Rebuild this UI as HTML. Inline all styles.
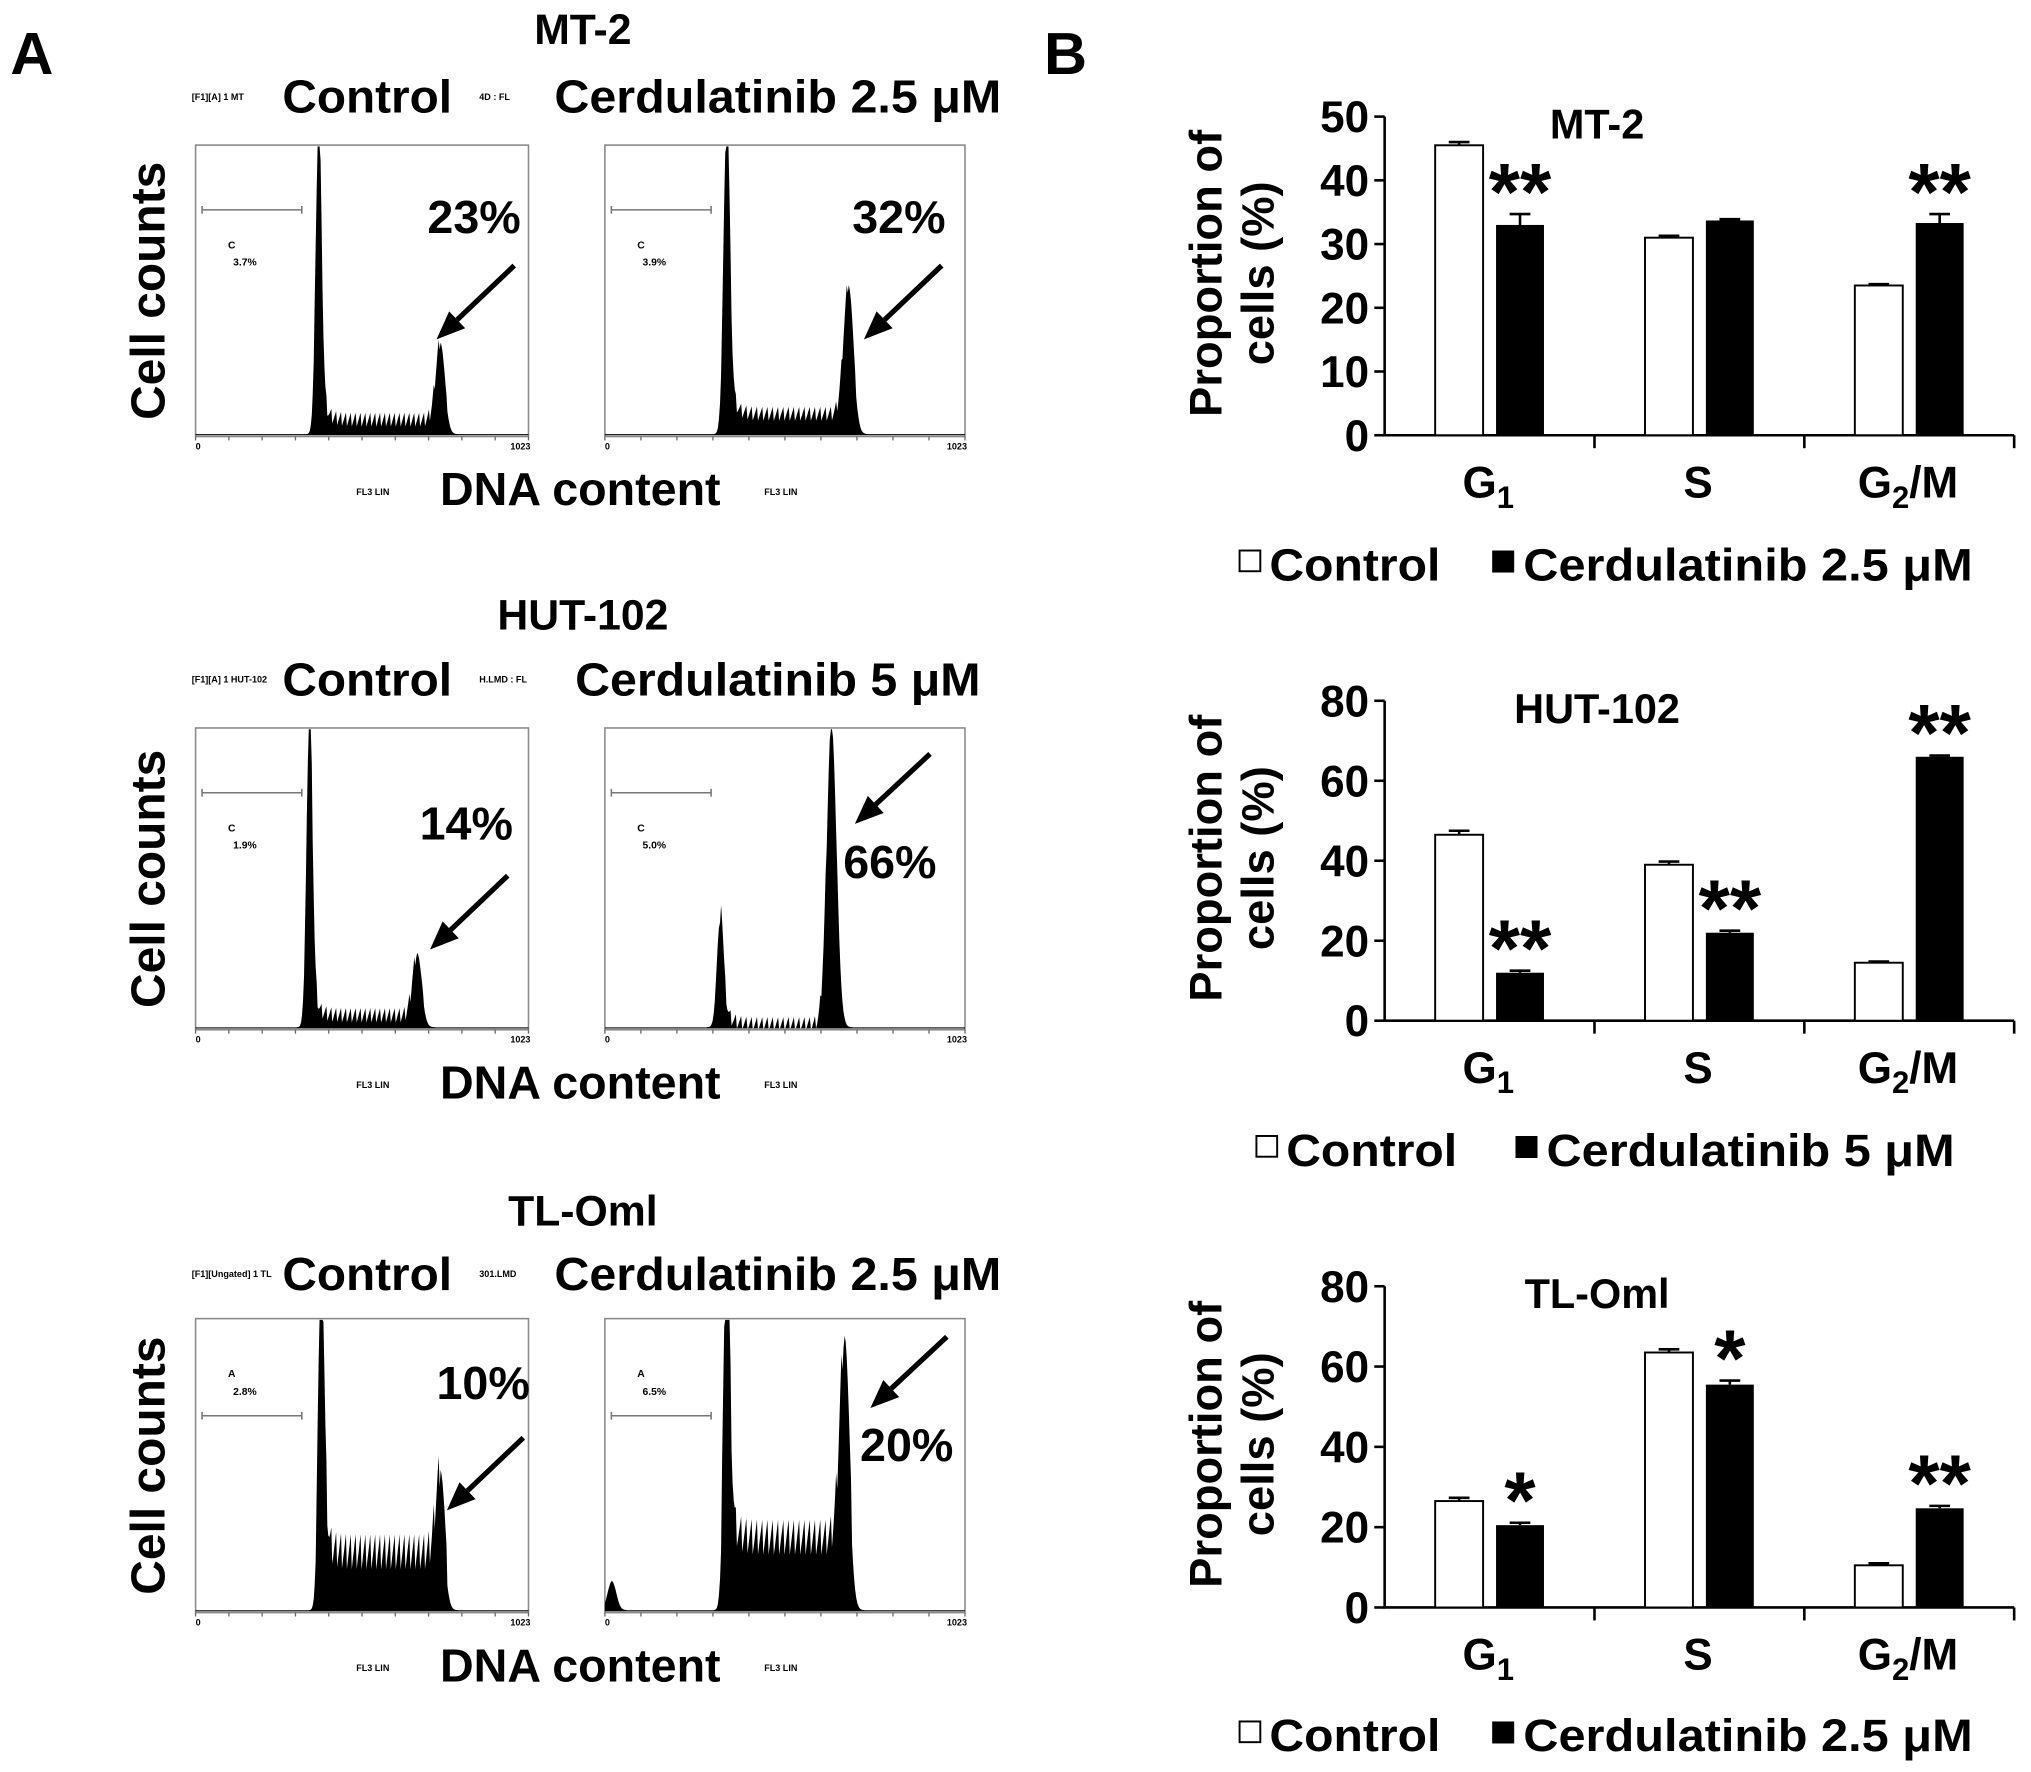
<!DOCTYPE html>
<html><head><meta charset="utf-8"><style>
html,body{margin:0;padding:0;background:#fff}
svg{display:block}
text{font-family:"Liberation Sans",Arial,sans-serif;font-weight:bold;fill:#000}
</style></head><body>
<svg id="fig" width="2031" height="1772" viewBox="0 0 1568 1368" xmlns="http://www.w3.org/2000/svg">
<rect width="1568" height="1368" fill="#fff"/>
<text x="8" y="57" font-size="46">A</text>
<text x="806" y="57" font-size="46">B</text>
<g id="panelA"></g>
<g id="panelB"></g>
</svg>
<script>
// ---------- Panel B data ----------
var categories = ["G1", "S", "G2/M"];
var mt2Control = [45.5, 31.0, 23.5];
var mt2Treated = [33.0, 33.7, 33.3];
var mt2CtrlErr = [0.5, 0.3, 0.2];
var mt2TrtErr = [1.7, 0.2, 1.4];
var mt2Stars = ["**", "", "**"];
var mt2Ticks = [0, 10, 20, 30, 40, 50];
var hutControl = [46.5, 39.0, 14.5];
var hutTreated = [12.0, 22.0, 66.0];
var hutCtrlErr = [1.0, 0.8, 0.3];
var hutTrtErr = [0.5, 0.5, 0.3];
var hutStars = ["**", "**", "**"];
var hutTicks = [0, 20, 40, 60, 80];
var tlControl = [26.5, 63.5, 10.5];
var tlTreated = [20.5, 55.5, 24.7];
var tlCtrlErr = [0.8, 0.8, 0.5];
var tlTrtErr = [0.6, 1.0, 0.6];
var tlStars = ["*", "*", "**"];
var tlTicks = [0, 20, 40, 60, 80];
// ---------- Panel A histogram peak data (channel, relative height) ----------
var histG1Channel = [378, 346, 350, 327, 386, 346];
var histG1Height = [1.0, 1.0, 1.0, 0.34, 1.0, 1.0];
var histG2Channel = [752, 692, 681, 644, 752, 681];
var histG2Height = [0.27, 0.45, 0.21, 1.0, 0.29, 0.70];
var histPlateau = [0.05, 0.07, 0.04, 0.01, 0.20, 0.25];
var histSubG1 = [0.0, 0.0, 0.0, 0.0, 0.0, 0.10];
var g2Percent = ["23%", "32%", "14%", "66%", "10%", "20%"];

var NS = "http://www.w3.org/2000/svg";
function mk(tag, attrs, parent, txt) {
  var e = document.createElementNS(NS, tag);
  for (var k in attrs) e.setAttribute(k, attrs[k]);
  if (txt !== undefined) e.textContent = txt;
  parent.appendChild(e);
  return e;
}
var A = document.getElementById('panelA');
var B = document.getElementById('panelB');

// ---------- Panel B ----------
function barChart(cfg) {
  var g = mk('g', {}, B);
  
  
  var x0 = 1069, x1 = 1555, yTop = cfg.yTop, yBot = cfg.yBot, vmax = cfg.ticks[cfg.ticks.length - 1];
  function ys(v) { return yBot - (v / vmax) * (yBot - yTop); }
  var axis = mk('path', {d: 'M' + x0 + ',' + yTop + 'V' + yBot + 'H' + x1, stroke: '#000', 'stroke-width': 2, fill: 'none'}, g);
  
  
  cfg.ticks.forEach(function (t) {
    var y = ys(t);
    mk('line', {x1: x0 - 8, x2: x0, y1: y, y2: y, stroke: '#000', 'stroke-width': 2}, g);
    var tl = mk('text', {x: x0 - 12, y: y + 12, 'font-size': 34, 'text-anchor': 'end'}, g, String(t));
    
    
  });
  var groupW = (x1 - x0) / categories.length;
  for (var i = 1; i <= categories.length; i++) {
    var xt = x0 + groupW * i;
    mk('line', {x1: xt, x2: xt, y1: yBot, y2: yBot + 10, stroke: '#000', 'stroke-width': 2}, g);
  }
  categories.forEach(function (c, i) {
    var gx = x0 + groupW * i;
    var bw = 37;
    var cx = gx + 39, tx = gx + 86;
    var b1 = mk('rect', {x: cx, y: ys(cfg.ctrl[i]), width: bw, height: yBot - ys(cfg.ctrl[i]), fill: '#fff', stroke: '#000', 'stroke-width': 1.5}, g);
    
    
    var b2 = mk('rect', {x: tx, y: ys(cfg.trt[i]), width: bw, height: yBot - ys(cfg.trt[i]), fill: '#000'}, g);
    
    
    [[cx, cfg.ctrl[i], cfg.ce[i]], [tx, cfg.trt[i], cfg.te[i]]].forEach(function (p) {
      var ex = p[0] + bw / 2, yv = ys(p[1]), ye = ys(p[1] + p[2]);
      mk('path', {d: 'M' + ex + ',' + yv + 'V' + ye + 'M' + (ex - 8) + ',' + ye + 'H' + (ex + 8), stroke: '#000', 'stroke-width': 2, fill: 'none'}, g);
    });
    if (cfg.stars[i]) {
      var st = mk('text', {x: tx + bw / 2, y: ys(cfg.trt[i] + cfg.te[i]) + 4, 'font-size': 62, 'text-anchor': 'middle'}, g, cfg.stars[i]);
      
      
    }
    var lab = mk('text', {x: gx + 80, y: yBot + 48, 'font-size': 34, 'text-anchor': 'middle'}, g);
    
    
    if (c === 'G1') { lab.innerHTML = 'G<tspan font-size="24" dy="8">1</tspan>'; }
    else if (c === 'G2/M') { lab.innerHTML = 'G<tspan font-size="24" dy="8">2</tspan><tspan dy="-8">/M</tspan>'; }
    else lab.textContent = c;
  });
  var t = mk('text', {x: 1233, y: yTop + 17, 'font-size': 32, 'text-anchor': 'middle'}, g, cfg.title);
  
  
  var yl = mk('text', {transform: 'translate(943,' + ((yTop + yBot) / 2 - 2) + ') rotate(-90)', 'font-size': 35, 'text-anchor': 'middle'}, g, 'Proportion of');
  
  
  var yl2 = mk('text', {transform: 'translate(983,' + ((yTop + yBot) / 2 - 2) + ') rotate(-90)', 'font-size': 35, 'text-anchor': 'middle'}, g, 'cells (%)');
  
  
  var L = cfg.legend;
  var lg = mk('g', {}, g);
  
  
  mk('rect', {x: L.x1, y: L.y - 23, width: 16, height: 16, fill: '#fff', stroke: '#000', 'stroke-width': 1.5}, lg);
  mk('text', {x: L.x1 + 23, y: L.y, 'font-size': 35, textLength: L.w1, lengthAdjust: 'spacingAndGlyphs'}, lg, 'Control');
  mk('rect', {x: L.x2, y: L.y - 23, width: 17, height: 17, fill: '#000'}, lg);
  mk('text', {x: L.x2 + 24, y: L.y, 'font-size': 35, textLength: L.w2, lengthAdjust: 'spacingAndGlyphs'}, lg, L.label);
}
barChart({name: 'chart-mt2', title: 'MT-2', yTop: 90, yBot: 336, ticks: mt2Ticks, ctrl: mt2Control, trt: mt2Treated, ce: mt2CtrlErr, te: mt2TrtErr, stars: mt2Stars,
  legend: {x1: 957, x2: 1152, y: 448, w1: 132, w2: 347, label: 'Cerdulatinib 2.5 μM'}});
barChart({name: 'chart-hut102', title: 'HUT-102', yTop: 541, yBot: 788, ticks: hutTicks, ctrl: hutControl, trt: hutTreated, ce: hutCtrlErr, te: hutTrtErr, stars: hutStars,
  legend: {x1: 970, x2: 1170, y: 900, w1: 132, w2: 315, label: 'Cerdulatinib 5 μM'}});
barChart({name: 'chart-tloml', title: 'TL-Oml', yTop: 993, yBot: 1241, ticks: tlTicks, ctrl: tlControl, trt: tlTreated, ce: tlCtrlErr, te: tlTrtErr, stars: tlStars,
  legend: {x1: 957, x2: 1152, y: 1352, w1: 132, w2: 347, label: 'Cerdulatinib 2.5 μM'}});

// ---------- Panel A ----------
var rows = [
  {title: 'MT-2', y: 112, h: 225, treat: 'Cerdulatinib 2.5 μM', tw: 345, tx: 428, tag1: '[F1][A] 1 MT', tag2: '4D : FL', c1: 'C', c2: '3.7%', c3: '3.9%'},
  {title: 'HUT-102', y: 562, h: 233, treat: 'Cerdulatinib 5 μM', tw: 313, tx: 444, tag1: '[F1][A] 1 HUT-102', tag2: 'H.LMD : FL', c1: 'C', c2: '1.9%', c3: '5.0%'},
  {title: 'TL-Oml', y: 1018, h: 227, treat: 'Cerdulatinib 2.5 μM', tw: 345, tx: 428, tag1: '[F1][Ungated] 1 TL', tag2: '301.LMD', c1: 'A', c2: '2.8%', c3: '6.5%'}
];
var boxes = [[151, 408], [467, 745]];
var arrows = [[397, 205, 337, 262, 366, 180], [727, 205, 667, 262, 694, 180], [392, 676, 332, 733, 360, 648], [718, 582, 660, 636, 687, 678], [404, 1110, 345, 1166, 373, 1080], [731, 1032, 672, 1087, 700, 1128]];
function gauss(x, m, s) { return Math.exp(-0.5 * (x - m) * (x - m) / (s * s)); }
rows.forEach(function (r, ri) {
  var g = mk('g', {}, A);
  
  
  var tt = mk('text', {x: 450, y: ri === 0 ? 34 : (ri === 1 ? 486 : 946), 'font-size': 33, 'text-anchor': 'middle'}, g, r.title);
  
  
  var ly = ri === 0 ? 87 : (ri === 1 ? 537 : 996);
  mk('text', {x: 218, y: ly, 'font-size': 36, textLength: 131, lengthAdjust: 'spacingAndGlyphs'}, g, 'Control');
  mk('text', {x: r.tx, y: ly, 'font-size': 36, textLength: r.tw, lengthAdjust: 'spacingAndGlyphs'}, g, r.treat);
  mk('text', {x: 148, y: ly - 10, 'font-size': 7, 'font-weight': 'normal', fill: '#444'}, g, r.tag1);
  mk('text', {x: 370, y: ly - 10, 'font-size': 7, 'font-weight': 'normal', fill: '#444'}, g, r.tag2);
  var cc = mk('text', {transform: 'translate(127,' + (r.y + r.h / 2) + ') rotate(-90)', 'font-size': 37, 'text-anchor': 'middle'}, g, 'Cell counts');
  
  
  var dn = mk('text', {x: 448, y: r.y + r.h + 53, 'font-size': 36, 'text-anchor': 'middle'}, g, 'DNA content');
  
  
  mk('text', {x: 275, y: r.y + r.h + 45, 'font-size': 7, 'font-weight': 'normal', fill: '#444'}, g, 'FL3 LIN');
  mk('text', {x: 590, y: r.y + r.h + 45, 'font-size': 7, 'font-weight': 'normal', fill: '#444'}, g, 'FL3 LIN');
  boxes.forEach(function (bx, bi) {
    var hi = ri * 2 + bi;
    var X0 = bx[0], X1 = bx[1], Y0 = r.y, Y1 = r.y + r.h;
    var hg = mk('g', {}, g);
    
    
    mk('rect', {x: X0, y: Y0, width: X1 - X0, height: r.h, fill: 'none', stroke: '#888', 'stroke-width': 1.2}, hg);
    for (var k = 0; k <= 10; k++) {
      var xt = X0 + (X1 - X0) * k / 10;
      mk('line', {x1: xt, x2: xt, y1: Y1, y2: Y1 + 3, stroke: '#666', 'stroke-width': 1}, hg);
    }
    mk('text', {x: X0, y: Y1 + 10, 'font-size': 7, 'font-weight': 'normal', fill: '#444'}, hg, '0');
    mk('text', {x: X1 - 14, y: Y1 + 10, 'font-size': 7, 'font-weight': 'normal', fill: '#444'}, hg, '1023');
    var my = ri === 2 ? Y0 + 75 : Y0 + 50;
    mk('path', {d: 'M' + (X0 + 5) + ',' + my + 'H' + (X0 + 82) + 'M' + (X0 + 5) + ',' + (my - 3) + 'v6M' + (X0 + 82) + ',' + (my - 3) + 'v6', stroke: '#777', 'stroke-width': 1.2}, hg);
    mk('text', {x: X0 + 25, y: ri === 2 ? Y0 + 45 : Y0 + 80, 'font-size': 8, 'font-weight': 'normal', fill: '#333'}, hg, r.c1);
    mk('text', {x: X0 + 29, y: ri === 2 ? Y0 + 59 : Y0 + 93, 'font-size': 8, 'font-weight': 'normal', fill: '#333'}, hg, bi === 0 ? r.c2 : r.c3);
    var sx = function (ch) { return X0 + (ch / 1023) * (X1 - X0); };
    var syv = function (v) { return Y1 - 1 - v * (r.h - 2); };
    var g1 = histG1Channel[hi], g2 = histG2Channel[hi];
    var d = 'M' + sx(0) + ',' + (Y1 - 1);
    for (var ch = 0; ch <= 1023; ch += 3) {
      var v = histG1Height[hi] * gauss(ch, g1, 9) + histG2Height[hi] * gauss(ch, g2, 14);
      var tail = ch > g1 ? Math.exp(-(ch - g1) / 18) * 0.12 : 0;
      var plat = (ch > g1 - 15 && ch < g2 + 20) ? histPlateau[hi] * (1 / (1 + Math.exp(-(ch - g1 + 15) / 3))) * (1 / (1 + Math.exp((ch - g2 - 20) / 6))) : 0;
      var jit = (ch > g1 && ch < g2) ? 0.012 * ((ch * 7) % 5 - 2) * (histPlateau[hi] > 0.1 ? 2.5 : 1) : 0;
      v = Math.max(0, Math.min(1, v + tail + plat + jit + histSubG1[hi] * gauss(ch, 20, 12) + 0.004));
      d += 'L' + sx(ch).toFixed(1) + ',' + syv(v).toFixed(1);
    }
    d += 'L' + sx(1023) + ',' + (Y1 - 1) + 'Z';
    mk('path', {d: d, fill: '#000'}, hg);
    var ar = arrows[hi];
    var ap = mk('g', {}, hg);
    
    
    var ang = Math.atan2(ar[3] - ar[1], ar[2] - ar[0]);
    var hx = ar[2], hy = ar[3], L = 22, W = 9;
    var bxp = hx - L * Math.cos(ang), byp = hy - L * Math.sin(ang);
    mk('line', {x1: ar[0], y1: ar[1], x2: bxp, y2: byp, stroke: '#000', 'stroke-width': 4}, ap);
    mk('polygon', {points: hx + ',' + hy + ' ' + (bxp + W * Math.sin(ang)) + ',' + (byp - W * Math.cos(ang)) + ' ' + (bxp - W * Math.sin(ang)) + ',' + (byp + W * Math.cos(ang)), fill: '#000'}, ap);
    var pt = mk('text', {x: ar[4], y: ar[5], 'font-size': 36, 'text-anchor': 'middle'}, hg, g2Percent[hi]);
    
    
  });
});
</script>
</body></html>
